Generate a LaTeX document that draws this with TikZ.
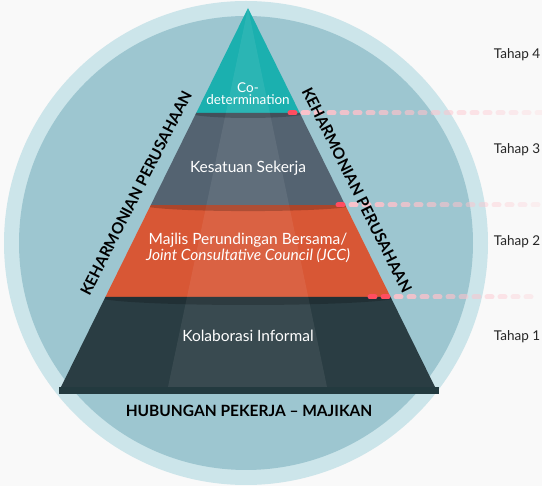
\documentclass[tikz,border=0pt]{standalone}
\usepackage{fontspec}
\setmainfont{Lato}
\usepackage{tikz}
\usetikzlibrary{calc}
\usepackage{xcolor}

\definecolor{bggrey}{HTML}{F9F9F9}
\definecolor{ringblue}{HTML}{CCE5EA}
\definecolor{discblue}{HTML}{9DC6D0}
\definecolor{codetteal}{HTML}{1BB0AF}
\definecolor{sekerjagrey}{HTML}{546371}
\definecolor{jccorange}{HTML}{D85735}
\definecolor{informaldark}{HTML}{2A3D43}
\definecolor{basedark}{HTML}{233A3F}
\definecolor{dashpink}{HTML}{FFC2CB}
\definecolor{dashred}{HTML}{FF4D60}

\tikzset{
	layertext/.style={text=white, align=center, font=\fontsize{15.5}{15.5}\selectfont},
	sidetext/.style={font=\fontsize{15.5}{17}\selectfont\bfseries},
	tahaptext/.style={font=\fontsize{13.5}{15}\selectfont, text=black!85},
	stepdash/.style={line width=5pt, line cap=round},
	layershadow/.style={black, opacity=.2},
}

\begin{document}
\begin{tikzpicture}[x=1pt,y=-1pt]

	\useasboundingbox (0,0) rectangle (542,486);
	\fill[bggrey] (0,0) rectangle (542,486);
	
	% circles
	\coordinate (mid) at (246,243);
	\fill[ringblue] (mid) circle[radius=242pt];
	\fill[discblue] (mid) circle[radius=227pt];
	
	% pyramid corners
	\coordinate (apex) at (248,8);
	\coordinate (bl) at (61,387);
	\coordinate (br) at (435,387);
	\coordinate (l1) at ($(apex)!0.277!(bl)$);
	\coordinate (r1) at ($(apex)!0.277!(br)$);
	\coordinate (l2) at ($(apex)!0.520!(bl)$);
	\coordinate (r2) at ($(apex)!0.520!(br)$);
	\coordinate (l3) at ($(apex)!0.7625!(bl)$);
	\coordinate (r3) at ($(apex)!0.7625!(br)$);
	
	\fill[codetteal] (apex) -- (l1) -- (r1) -- cycle;
	\fill[sekerjagrey] (l1) -- (l2) -- (r2) -- (r1) -- cycle;
	\fill[jccorange] (l2) -- (l3) -- (r3) -- (r2) -- cycle;
	\fill[informaldark] (l3) -- (bl) -- (br) -- (r3) -- cycle;
	
	% lighter middle strip
	\fill[white, opacity=.07] (apex) -- (168,387) -- (327,387) -- cycle;
	
	% shadows under each layer
	\begin{scope}
		\clip (l1) -- (l2) -- (r2) -- (r1) -- cycle;
		\fill[layershadow] ($(l1)!.5!(r1)$) ellipse[x radius=58pt, y radius=5pt];
	\end{scope}
	\begin{scope}
		\clip (l2) -- (l3) -- (r3) -- (r2) -- cycle;
		\fill[layershadow] ($(l2)!.5!(r2)$) ellipse[x radius=105pt, y radius=6pt];
	\end{scope}
	\begin{scope}
		\clip (l3) -- (bl) -- (br) -- (r3) -- cycle;
		\fill[layershadow] ($(l3)!.5!(r3)$) ellipse[x radius=150pt, y radius=8pt];
	\end{scope}
	
	% base slab
	\fill[basedark] (59,387) rectangle (439,394);
	
	% step lines
	\coordinate (d4) at (290,113);
	\coordinate (d3) at (338,205);
	\coordinate (d2) at (370,297);
	\foreach \k [evaluate=\k as \op using {1-0.8*\k/19}] in {1,...,19}
		\draw[stepdash, dashpink, opacity=\op] ($(d4)+(\k*13,0)$) -- ++(5,0);
	\draw[stepdash, dashred] (d4) -- ++(5,0);
	\foreach \k [evaluate=\k as \op using {1-0.8*\k/15}] in {1,...,15}
		\draw[stepdash, dashpink, opacity=\op] ($(d3)+(\k*13,0)$) -- ++(5,0);
	\draw[stepdash, dashred] (d3) -- ++(5,0);
	\foreach \k [evaluate=\k as \op using {1-0.8*\k/13}] in {2,...,12}
		\draw[stepdash, dashpink, opacity=\op] ($(d2)+(\k*13,0)$) -- ++(5,0);
	\draw[stepdash, dashred] (d2) -- ++(5,0) ($(d2)+(13,0)$) -- ++(5,0);
	
	% layer texts
	\node[layertext, font=\fontsize{13.5}{12}\selectfont] (codet) at (248,94) {Co-\\determination};
	\node[layertext] (sekerja) at (248,168) {Kesatuan Sekerja};
	\node[layertext] (jcc) at (248,248) {Majlis Perundingan Bersama/\\\itshape Joint Consultative Council (JCC)};
	\node[layertext] (informal) at (248,336) {Kolaborasi Informal};
	\node[sidetext] (hubungan) at (249,411) {HUBUNGAN PEKERJA -- MAJIKAN};
	
	% side labels
	\node[sidetext, rotate=63] (harmonikiri) at (136,193) {KEHARMONIAN PERUSAHAAN};
	\node[sidetext, rotate=-63.5] (harmonikanan) at (357,190) {KEHARMONIAN PERUSAHAAN};
	
	% stages
	\node[tahaptext] (tahap4) at (517,55) {Tahap 4};
	\node[tahaptext] (tahap3) at (517,150) {Tahap 3};
	\node[tahaptext] (tahap2) at (517,242) {Tahap 2};
	\node[tahaptext] (tahap1) at (517,337) {Tahap 1};

\end{tikzpicture}
\end{document}
